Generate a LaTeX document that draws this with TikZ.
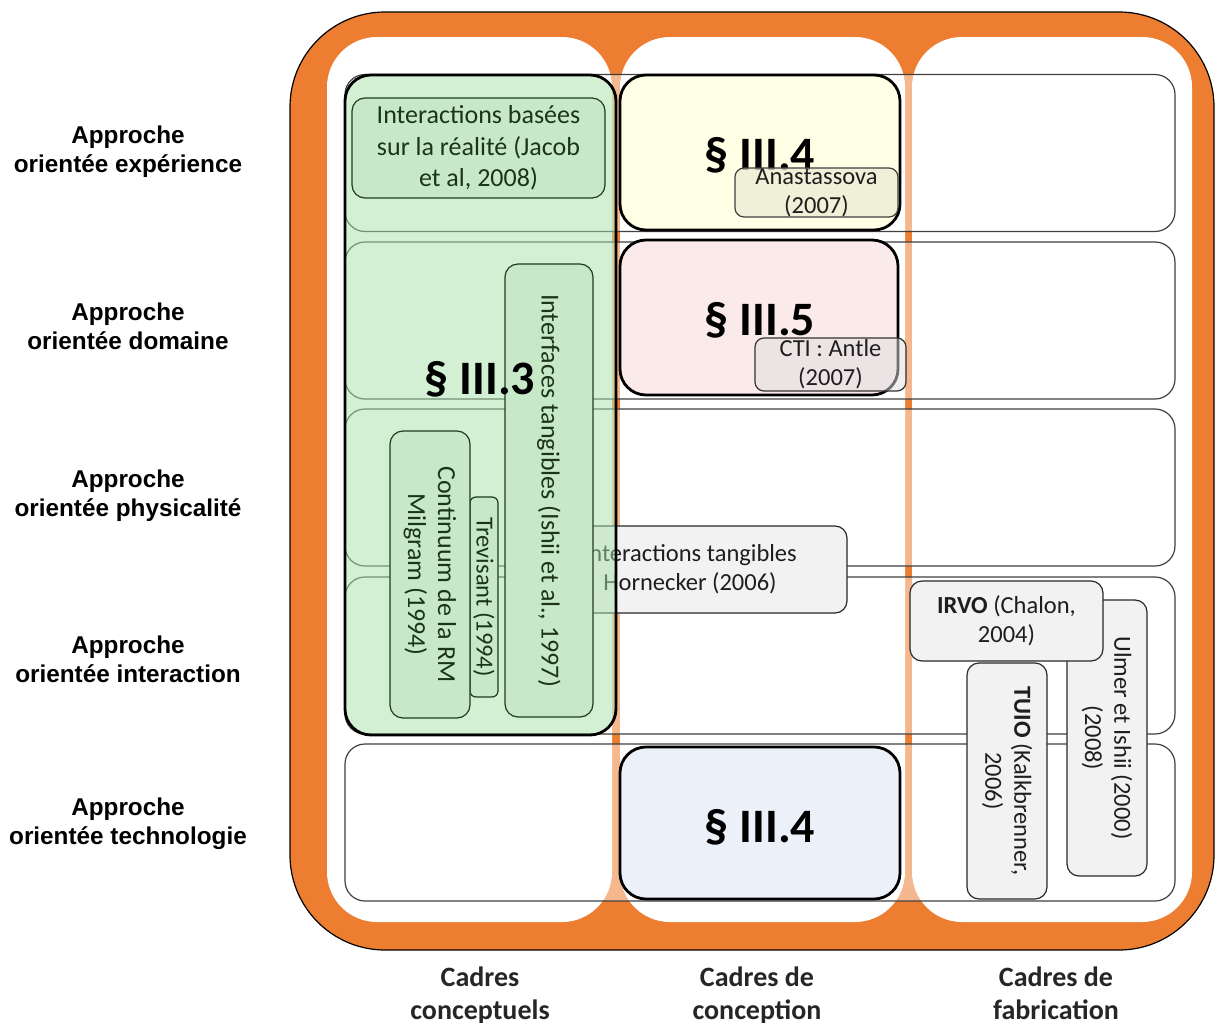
\documentclass[tikz,border=0pt]{standalone}
\usepackage{fontspec}
\setmainfont{Carlito}
\newfontfamily\headfont{Liberation Sans}
\definecolor{frameorange}{RGB}{237,125,49}
\definecolor{zonegreen}{RGB}{171,226,171}
\definecolor{itemgreen}{RGB}{200,233,200}
\definecolor{itemgreenline}{RGB}{30,60,30}
\definecolor{itemgreentext}{RGB}{28,52,28}
\definecolor{zoneyellow}{RGB}{255,255,230}
\definecolor{zonepink}{RGB}{250,234,234}
\definecolor{zoneblue}{RGB}{236,241,249}
\definecolor{itemgrey}{RGB}{242,242,242}
\definecolor{itemgreyline}{RGB}{40,40,40}
\definecolor{itemtext}{RGB}{30,30,30}
\newcommand{\itemfont}{\fontsize{24.5}{29}\selectfont}
\newcommand{\wideitemfont}{\fontsize{26}{30}\selectfont}
\begin{document}
\begin{tikzpicture}[x=1pt,y=-1pt,
  frame/.style={draw=black, line width=1.2pt, fill=frameorange, rounded corners=95pt,
    inner sep=0pt, minimum width=924pt, minimum height=938pt},
  colbox/.style={fill=white, rounded corners=50pt, inner sep=0pt, minimum height=885pt},
  rowbox/.style={draw=black!75, line width=1.2pt, fill=white, fill opacity=0.45,
    rounded corners=20pt, inner sep=0pt, minimum width=830pt, minimum height=157pt},
  zone/.style={draw=black, line width=2.8pt, rounded corners=26pt, inner sep=0pt},
  biglabel/.style={font=\bfseries\fontsize{48}{52}\selectfont, inner sep=0pt, anchor=base},
  greenitem/.style={draw=itemgreenline, line width=1.2pt, fill=itemgreen, rounded corners=13pt,
    inner sep=0pt, align=center, text=itemgreentext, font=\wideitemfont},
  greyitem/.style={draw=itemgreyline, line width=1.2pt, fill=itemgrey, rounded corners=12pt,
    inner sep=0pt, align=center, text=itemtext, font=\itemfont},
  rowlabel/.style={font=\headfont\bfseries\fontsize{24.3}{29}\selectfont, align=center, inner sep=0pt},
  collabel/.style={font=\bfseries\fontsize{28}{33}\selectfont, align=center, inner sep=0pt, text=black!85}
]
\useasboundingbox (0,0) rectangle (1216,1023);

% orange frame and the three white columns
\node[frame] (frame) at (752,481) {};
\node[colbox, minimum width=285pt] (col1) at (469.5,479.5) {};
\node[colbox, minimum width=285pt] (col2) at (762.5,479.5) {};
\node[colbox, minimum width=280pt] (col3) at (1052,479.5) {};

% the five approach rows
\node[rowbox] (row1) at (760,153) {};
\node[rowbox] (row2) at (760,320.5) {};
\node[rowbox] (row3) at (760,487.5) {};
\node[rowbox] (row4) at (760,655.5) {};
\node[rowbox] (row5) at (760,822.5) {};

% grey item lying partly under the green zone
\node[greyitem, minimum width=314pt, minimum height=87pt] (hornecker) at (690,569.5)
  {Interactions tangibles\\Hornecker (2006)};

% section III.3 zone
\node[zone, fill=zonegreen, fill opacity=0.5, minimum width=271pt, minimum height=660pt]
  (z33) at (480.5,405) {};

% items of the conceptual column
\node[greenitem, rotate=-90, minimum width=200pt, minimum height=28pt, rounded corners=6pt,
  font=\itemfont] (trevisant) at (484,597) {Trevisant (1994)};
\node[greenitem, rotate=-90, minimum width=287pt, minimum height=80pt]
  (continuum) at (430,574.5) {Continuum de la RM\\Milgram (1994)};
\node[greenitem, rotate=-90, minimum width=453pt, minimum height=88pt]
  (interfaces) at (549,490.5) {Interfaces tangibles (Ishii et al., 1997)};
\node[greenitem, minimum width=253pt, minimum height=100pt, font=\fontsize{26}{31.5}\selectfont]
  (basees) at (478.5,148) {Interactions basées\\sur la réalité (Jacob\\et al, 2008)};
\node[biglabel] (l33) at (480,394) {§ III.3};

% section zones of the design column
\node[zone, fill=zoneyellow, minimum width=280pt, minimum height=155pt] (z34a) at (760,152.5) {};
\node[biglabel] (l34a) at (760,170) {§ III.4};
\node[greyitem, fill=black!8!zoneyellow, fill opacity=0.75, text opacity=1, draw=black!75,
  minimum width=163pt, minimum height=49pt, rounded corners=9pt]
  (anastassova) at (816.5,192.5) {Anastassova\\(2007)};

\node[zone, fill=zonepink, minimum width=278pt, minimum height=155pt] (z35) at (759,317.5) {};
\node[biglabel] (l35) at (760,335) {§ III.5};
\node[greyitem, fill=black!12, fill opacity=0.5, text opacity=1, draw=black!80,
  minimum width=151pt, minimum height=53pt, rounded corners=9pt]
  (cti) at (830.5,364.5) {CTI : Antle\\(2007)};

\node[zone, fill=zoneblue, minimum width=280pt, minimum height=152pt] (z34b) at (760,823) {};
\node[biglabel] (l34b) at (760,842) {§ III.4};

% items of the fabrication column
\node[greyitem, rotate=-90, minimum width=276pt, minimum height=80pt]
  (ulmer) at (1107,738) {Ulmer et Ishii (2000)\\(2008)};
\node[greyitem, minimum width=193pt, minimum height=80pt]
  (irvo) at (1006.5,621) {\textbf{IRVO} (Chalon,\\2004)};
\node[greyitem, rotate=-90, minimum width=236pt, minimum height=80pt]
  (tuio) at (1007,781) {\textbf{TUIO} (Kalkbrenner,\\2006)};

% row headings
\node[rowlabel] (a1) at (128,152) {Approche\\orientée expérience};
\node[rowlabel] (a2) at (128,326) {Approche\\orientée domaine};
\node[rowlabel] (a3) at (128,496) {Approche\\orientée physicalité};
\node[rowlabel] (a4) at (128,659) {Approche\\orientée interaction};
\node[rowlabel] (a5) at (128,824) {Approche\\orientée technologie};

% column headings
\node[collabel] (b1) at (480,995) {Cadres\\conceptuels};
\node[collabel] (b2) at (757,995) {Cadres de\\conception};
\node[collabel] (b3) at (1056,993) {Cadres de\\fabrication};
\end{tikzpicture}
\end{document}
